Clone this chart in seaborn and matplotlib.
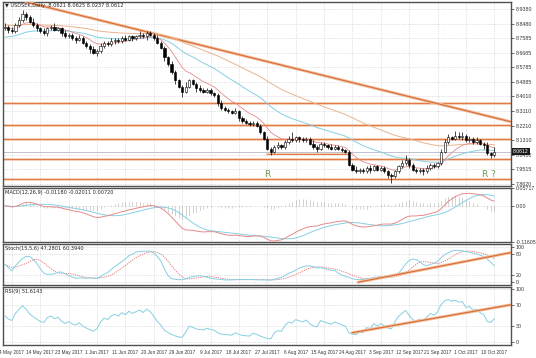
import numpy as np
import pandas as pd
import matplotlib
matplotlib.use("Agg")
import matplotlib.pyplot as plt
import matplotlib.transforms as mtransforms
import seaborn as sns

# ---------------- data ----------------
closes = [
    8.83, 8.81, 8.80, 8.84, 8.87, 8.91, 8.89, 8.86, 8.84, 8.82,
    8.80, 8.79, 8.82, 8.83, 8.81, 8.82, 8.79, 8.77, 8.78, 8.76,
    8.75, 8.76, 8.73, 8.71, 8.69, 8.67, 8.68, 8.71, 8.73, 8.72,
    8.74, 8.75, 8.74, 8.76, 8.75, 8.77, 8.76, 8.77, 8.78, 8.77,
    8.79, 8.78, 8.76, 8.73, 8.70, 8.64, 8.60, 8.55, 8.50, 8.46,
    8.43, 8.46, 8.50, 8.48, 8.45, 8.44, 8.43, 8.44, 8.42, 8.41,
    8.36, 8.33, 8.32, 8.31, 8.30, 8.31, 8.27, 8.25, 8.24, 8.23,
    8.24, 8.22, 8.18, 8.14, 8.08, 8.06, 8.09, 8.10, 8.09, 8.12,
    8.14, 8.13, 8.15, 8.14, 8.13, 8.14, 8.11, 8.09, 8.08, 8.11,
    8.10, 8.09, 8.08, 8.09, 8.08, 8.07, 8.06, 7.98, 7.95, 7.94,
    7.95, 7.94, 7.96, 7.95, 7.97, 7.95, 7.96, 7.94, 7.92, 7.91,
    7.94, 7.97, 7.99, 8.01, 7.98, 7.95, 7.94, 7.95, 7.94, 7.96,
    7.98, 7.97, 7.99, 8.06, 8.12, 8.15, 8.14, 8.16, 8.15, 8.16,
    8.13, 8.14, 8.12, 8.13, 8.11, 8.10, 8.05, 8.04, 8.0612,
]
first_open = 8.82
wick_up = [
    0.02, 0.01, 0.02, 0.01, 0.02, 0.02, 0.01, 0.01, 0.02, 0.01,
    0.01, 0.02, 0.01, 0.01, 0.02, 0.01, 0.01, 0.02, 0.01, 0.01,
    0.01, 0.02, 0.01, 0.01, 0.01, 0.02, 0.01, 0.02, 0.01, 0.01,
    0.02, 0.01, 0.01, 0.01, 0.02, 0.01, 0.01, 0.01, 0.02, 0.01,
    0.01, 0.01, 0.01, 0.02, 0.01, 0.01, 0.01, 0.02, 0.01, 0.01,
    0.01, 0.03, 0.01, 0.01, 0.01, 0.02, 0.01, 0.01, 0.01, 0.01,
    0.01, 0.02, 0.01, 0.01, 0.01, 0.02, 0.01, 0.01, 0.01, 0.01,
    0.01, 0.01, 0.01, 0.01, 0.02, 0.01, 0.01, 0.02, 0.01, 0.01,
    0.02, 0.04, 0.01, 0.01, 0.01, 0.01, 0.01, 0.02, 0.01, 0.01,
    0.01, 0.01, 0.02, 0.01, 0.01, 0.01, 0.01, 0.01, 0.01, 0.02,
    0.01, 0.01, 0.01, 0.02, 0.01, 0.01, 0.01, 0.01, 0.01, 0.01,
    0.01, 0.01, 0.02, 0.03, 0.01, 0.01, 0.01, 0.01, 0.01, 0.02,
    0.01, 0.01, 0.01, 0.02, 0.02, 0.02, 0.01, 0.03, 0.02, 0.02,
    0.01, 0.02, 0.01, 0.02, 0.01, 0.01, 0.02, 0.01, 0.03,
]
wick_dn = [
    0.01, 0.02, 0.01, 0.01, 0.01, 0.01, 0.02, 0.01, 0.01, 0.02,
    0.01, 0.01, 0.02, 0.01, 0.01, 0.01, 0.02, 0.01, 0.01, 0.01,
    0.02, 0.01, 0.01, 0.01, 0.02, 0.01, 0.02, 0.01, 0.01, 0.01,
    0.01, 0.02, 0.01, 0.01, 0.01, 0.01, 0.02, 0.01, 0.01, 0.01,
    0.02, 0.01, 0.01, 0.01, 0.01, 0.02, 0.01, 0.01, 0.02, 0.01,
    0.03, 0.01, 0.01, 0.01, 0.02, 0.01, 0.01, 0.01, 0.01, 0.01,
    0.02, 0.01, 0.01, 0.01, 0.01, 0.01, 0.02, 0.01, 0.01, 0.01,
    0.01, 0.01, 0.01, 0.01, 0.01, 0.02, 0.01, 0.01, 0.01, 0.01,
    0.01, 0.01, 0.01, 0.02, 0.01, 0.01, 0.01, 0.01, 0.02, 0.01,
    0.01, 0.01, 0.01, 0.01, 0.01, 0.01, 0.01, 0.01, 0.01, 0.01,
    0.01, 0.01, 0.01, 0.02, 0.01, 0.01, 0.01, 0.01, 0.02, 0.04,
    0.01, 0.01, 0.01, 0.01, 0.02, 0.01, 0.01, 0.01, 0.02, 0.01,
    0.01, 0.01, 0.01, 0.01, 0.01, 0.01, 0.01, 0.01, 0.01, 0.02,
    0.01, 0.01, 0.01, 0.01, 0.01, 0.02, 0.01, 0.02, 0.01,
]
date_labels = ["4 May 2017", "14 May 2017", "23 May 2017", "1 Jun 2017",
               "11 Jun 2017", "20 Jun 2017", "29 Jun 2017", "9 Jul 2017",
               "18 Jul 2017", "27 Jul 2017", "6 Aug 2017", "15 Aug 2017",
               "24 Aug 2017", "3 Sep 2017", "12 Sep 2017", "21 Sep 2017",
               "1 Oct 2017", "10 Oct 2017"]
date_label_bars = [2, 10, 18, 26, 34, 42, 50, 58, 66, 74, 82, 90, 98, 106,
                   114, 122, 130, 138]
price_ticks = [8.9380, 8.8480, 8.7585, 8.6685, 8.5785, 8.4885, 8.4010,
               8.3110, 8.2210, 8.1310, 8.0410, 7.9515, 7.8620]
support_levels = [8.360, 8.225, 8.138, 8.015, 7.893]
short_level = 8.046
short_level_bars = [74, 97]
trend_main_bars = [6, 143]
trend_main_prices = [8.981, 8.243]
stoch_trend_bars = [99.6, 143]
stoch_trend_vals = [-2, 84]
rsi_trend_bars = [97.9, 143]
rsi_trend_vals = [18, 71]
ma_spans = {"fast": 10, "mid": 30, "slow": 60}
ma_seeds = {"fast": 8.82, "mid": 8.76, "slow": 8.84}
rsi_seed = 0.01
last_price = 8.0612
title_text = "\u25bc USDSEK,Daily  8.0621 8.0625 8.0237 8.0612"
macd_text = "MACD(12,26,9) -0.01180 -0.02011 0.00720"
stoch_text = "Stoch(15,5,6) 47.2801 60.3940"
rsi_text = "RSI(9) 51.6143"

# ---------------- derived series ----------------
n = len(closes)
bars = np.arange(n)
df = pd.DataFrame({"bar": bars, "close": closes})
df["open"] = [first_open] + closes[:-1]
df["high"] = df[["open", "close"]].max(axis=1) + np.array(wick_up)
df["low"] = df[["open", "close"]].min(axis=1) - np.array(wick_dn)


def seeded_ewm(s, seed, **kw):
    ext = pd.concat([pd.Series([seed]), s], ignore_index=True)
    return ext.ewm(adjust=False, **kw).mean().iloc[1:].to_numpy()


for k in ma_spans:
    df["ma_" + k] = seeded_ewm(df["close"], ma_seeds[k], span=ma_spans[k])

ema12 = df["close"].ewm(span=12, adjust=False).mean()
ema26 = df["close"].ewm(span=26, adjust=False).mean()
df["macd"] = ema12 - ema26
df["signal"] = df["macd"].rolling(9, min_periods=1).mean()
df["hist"] = df["macd"] - df["signal"]

ll = df["low"].rolling(15, min_periods=1).min()
hh = df["high"].rolling(15, min_periods=1).max()
num = (df["close"] - ll).rolling(5, min_periods=1).sum()
den = (hh - ll).rolling(5, min_periods=1).sum()
df["stoch_k"] = 100 * num / den
df["stoch_d"] = df["stoch_k"].rolling(6, min_periods=1).mean()

delta = df["close"].diff().fillna(0)
gain = seeded_ewm(delta.clip(lower=0), rsi_seed, alpha=1 / 9)
loss = seeded_ewm(-delta.clip(upper=0), rsi_seed, alpha=1 / 9)
df["rsi"] = 100 - 100 / (1 + gain / np.maximum(loss, 1e-9))

# ---------------- figure ----------------
sns.set_style("white")
plt.rcParams["font.family"] = ["DejaVu Sans"]
NARROW = ["Liberation Sans Narrow", "Liberation Sans", "DejaVu Sans"]
W, H = 536, 358
fig = plt.figure(figsize=(W / 100, H / 100), dpi=100)


def add_panel(top, bottom):
    return fig.add_axes([3 / W, 1 - bottom / H, 508 / W, (bottom - top) / H])


ax_main = add_panel(2, 186)
ax_macd = add_panel(188, 242)
ax_sto = add_panel(244, 285)
ax_rsi = add_panel(287, 345)
axes = [ax_main, ax_macd, ax_sto, ax_rsi]

XMIN, XMAX = -0.5, 142.7
grid_col = "#c9c9c9"
fs = 3.6
for ax in axes:
    ax.set_xlim(XMIN, XMAX)
    for sp in ax.spines.values():
        sp.set_color("#505050")
        sp.set_linewidth(1.0)
    ax.yaxis.tick_right()
    ax.tick_params(axis="y", labelsize=fs, length=2, width=0.5, pad=1.5,
                   colors="#333333")
    ax.set_xticks(date_label_bars)
    ax.tick_params(axis="x", length=0, labelbottom=False)
    ax.grid(True, axis="both", linestyle=(0, (1, 1.5)), color=grid_col,
            linewidth=0.5)
    ax.set_axisbelow(True)

# main panel
ax_main.set_ylim(7.850, 8.981)
ax_main.set_yticks(price_ticks)
ax_main.set_yticklabels([f"{v:.4f}" for v in price_ticks])

for lvl in support_levels:
    ax_main.axhline(lvl, color="#f5cbb0", lw=1.8, zorder=2)
    ax_main.axhline(lvl, color="#e07b45", lw=0.8, zorder=2)
ax_main.plot(short_level_bars, [short_level] * 2, color="#f5cbb0", lw=1.6, zorder=2)
ax_main.plot(short_level_bars, [short_level] * 2, color="#e07b45", lw=0.7, zorder=2)
ax_main.axhline(last_price, color="#b8b8c8", lw=0.6, zorder=2)

sns.lineplot(x=trend_main_bars, y=trend_main_prices, ax=ax_main,
             color="#f3c4a4", lw=2.2, zorder=3)
sns.lineplot(x=trend_main_bars, y=trend_main_prices, ax=ax_main,
             color="#d9703a", lw=0.9, zorder=3)

sns.lineplot(data=df, x="bar", y="ma_slow", ax=ax_main, color="#e9b48e", lw=0.7, zorder=3)
sns.lineplot(data=df, x="bar", y="ma_mid", ax=ax_main, color="#86cfe3", lw=0.7, zorder=3)
sns.lineplot(data=df, x="bar", y="ma_fast", ax=ax_main, color="#e58a8a", lw=0.6, zorder=3)

ax_main.vlines(df["bar"], df["low"], df["high"], color="black", lw=0.5, zorder=4)
body_lo = df[["open", "close"]].min(axis=1)
body_h = (df["close"] - df["open"]).abs().clip(lower=0.002)
face = ["white" if c >= o else "black" for o, c in zip(df["open"], df["close"])]
ax_main.bar(df["bar"], body_h, bottom=body_lo, width=0.62, color=face,
            edgecolor="black", linewidth=0.4, zorder=5)

ax_main.text(0.004, 0.995, title_text, transform=ax_main.transAxes,
             fontsize=fs, va="top", ha="left", color="#222222",
             family=["DejaVu Sans"])
ax_main.text(74, 7.92, "R", fontsize=6.5, color="#6f9a57", ha="center", va="center")
ax_main.text(136.5, 7.92, "R ?", fontsize=6.5, color="#6f9a57", ha="center", va="center")
trans = mtransforms.blended_transform_factory(ax_main.transAxes, ax_main.transData)
ax_main.text(1.004, last_price, f"{last_price:.4f}", transform=trans, fontsize=3.7,
             color="white", va="center", ha="left", family=NARROW,
             bbox=dict(boxstyle="square,pad=0.15", fc="#1a1a1a", ec="none"))

# MACD
ax_macd.set_ylim(-0.11605, 0.05717)
ax_macd.set_yticks([0.05717, 0.0, -0.11605])
ax_macd.set_yticklabels(["0.05717", "0.00", "-0.11605"])
ax_macd.vlines(df["bar"], 0, df["hist"], color="#9a9a9a", lw=0.5,
               linestyles=(0, (1, 0.6)), zorder=2)
sns.lineplot(data=df, x="bar", y="signal", ax=ax_macd, color="#86cfe3", lw=0.7, zorder=3)
sns.lineplot(data=df, x="bar", y="macd", ax=ax_macd, color="#e58a8a", lw=0.7, zorder=3)
ax_macd.text(0.004, 0.96, macd_text, transform=ax_macd.transAxes, fontsize=fs,
             va="top", ha="left", color="#222222")

# Stochastic
ax_sto.set_ylim(-10, 108)
ax_sto.set_yticks([100, 80, 20, 0])
ax_sto.set_yticklabels(["100", "80", "20", "0"])
sns.lineplot(data=df, x="bar", y="stoch_d", ax=ax_sto, color="#e07070", lw=0.6,
             linestyle=(0, (1.5, 1.2)), zorder=3)
sns.lineplot(data=df, x="bar", y="stoch_k", ax=ax_sto, color="#86cfe3", lw=0.7, zorder=3)
sns.lineplot(x=stoch_trend_bars, y=stoch_trend_vals, ax=ax_sto, color="#f3c4a4", lw=2.2, zorder=4)
sns.lineplot(x=stoch_trend_bars, y=stoch_trend_vals, ax=ax_sto, color="#d9703a", lw=0.9, zorder=4)
ax_sto.text(0.004, 0.96, stoch_text, transform=ax_sto.transAxes, fontsize=fs,
            va="top", ha="left", color="#222222")

# RSI
ax_rsi.set_ylim(-5, 104)
ax_rsi.set_yticks([100, 70, 30, 0])
ax_rsi.set_yticklabels(["100", "70", "30", "0"])
sns.lineplot(data=df, x="bar", y="rsi", ax=ax_rsi, color="#86cfe3", lw=0.7, zorder=3)
sns.lineplot(x=rsi_trend_bars, y=rsi_trend_vals, ax=ax_rsi, color="#f3c4a4", lw=2.2, zorder=4)
sns.lineplot(x=rsi_trend_bars, y=rsi_trend_vals, ax=ax_rsi, color="#d9703a", lw=0.9, zorder=4)
ax_rsi.text(0.004, 0.96, rsi_text, transform=ax_rsi.transAxes, fontsize=fs,
            va="top", ha="left", color="#222222")

for ax in axes:
    ax.set_xlabel("")
    ax.set_ylabel("")
    ax.set_xlim(XMIN, XMAX)
    for lab in ax.get_yticklabels():
        lab.set_family(NARROW)
        lab.set_fontsize(3.8)

ax_rsi.tick_params(axis="x", labelbottom=True, length=2, width=0.5,
                   pad=1.5, colors="#333333")
ax_rsi.set_xticklabels(date_labels, fontsize=3.4, family=NARROW)

fig.savefig("out.png", dpi=100, facecolor="white")
